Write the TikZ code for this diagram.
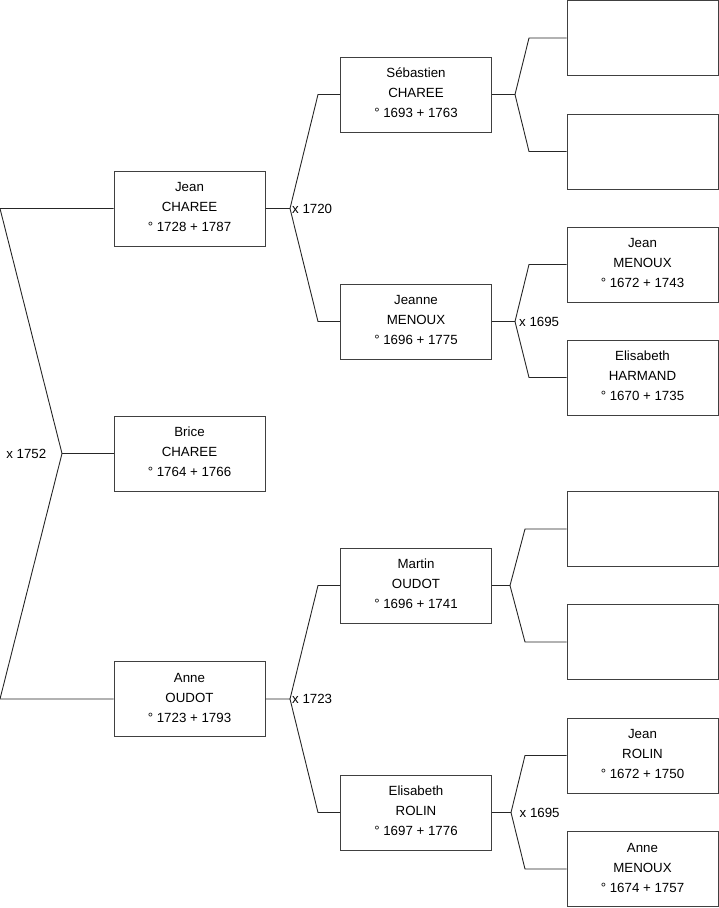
\documentclass[tikz,border=0pt]{standalone}
\usepackage{fontspec}
\setmainfont{Liberation Sans}
\usepackage{tikz}
\usetikzlibrary{calc, positioning}
\usepackage{tkz-euclide}

\definecolor{boxgray}{HTML}{404040}
\tikzset{
  person/.style={draw=boxgray, line width=1pt, minimum width=151pt, minimum height=75pt,
    inner sep=0pt, align=center, text depth=3pt, font=\fontsize{13.3}{20}\selectfont},
  link/.style={line width=0.9pt, black!85},
  lbl/.style={font=\fontsize{13.3}{15}\selectfont, inner sep=1.5pt}
}

\begin{document}
\begin{tikzpicture}[x=1pt, y=-1pt]
            \useasboundingbox (0,0) rectangle (719,908);
            % joints
            \tkzDefPoints{0/208.5/r1, 0/699/r2, 62/453.5/m0}
            \tkzDefPoints{290/208.5/j1, 318/94.5/ja, 318/321.5/jb}
            \tkzDefPoints{290/699/a1, 318/585.5/aa, 318/812.5/ab}
            \tkzDefPoints{515/94.5/s1, 529/38/sa, 529/151.5/sb}
            \tkzDefPoints{515/321.5/n1, 529/264.5/na, 529/377.5/nb}
            \tkzDefPoints{510/585.5/t1, 525/529/ta, 525/642/tb}
            \tkzDefPoints{511/812.5/e1, 525/755.5/ea, 525/869/eb}
            % generation 1
            \node[person] (jean)  at (189.5,208.5) {Jean\\CHAREE\\° 1728 + 1787};
            \node[person] (brice) at (189.5,453.5) {Brice\\CHAREE\\° 1764 + 1766};
            \node[person] (anne)  at (189.5,699)   {Anne\\OUDOT\\° 1723 + 1793};
            % generation 2
            \node[person] (sebastien) at (416,94.5)  {Sébastien\\CHAREE\\° 1693 + 1763};
            \node[person] (jeanne)    at (416,321.5) {Jeanne\\MENOUX\\° 1696 + 1775};
            \node[person] (martin)    at (416,585.5) {Martin\\OUDOT\\° 1696 + 1741};
            \node[person] (elisabeth) at (416,812.5) {Elisabeth\\ROLIN\\° 1697 + 1776};
            % generation 3
            \node[person] (seb-f)   at (642.5,38)    {};
            \node[person] (seb-m)   at (642.5,151.5) {};
            \node[person] (jmenoux) at (642.5,264.5) {Jean\\MENOUX\\° 1672 + 1743};
            \node[person] (harmand) at (642.5,377.5) {Elisabeth\\HARMAND\\° 1670 + 1735};
            \node[person] (mar-f)   at (642.5,529)   {};
            \node[person] (mar-m)   at (642.5,642)   {};
            \node[person] (jrolin)  at (642.5,755.5) {Jean\\ROLIN\\° 1672 + 1750};
            \node[person] (amenoux) at (642.5,869)   {Anne\\MENOUX\\° 1674 + 1757};
            % links
            \draw[link] (jean.west) -- (r1) -- (m0) -- (r2) -- (anne.west);
            \draw[link] (m0) -- (brice.west);
            \draw[link] (jean.east) -- (j1) (sebastien.west) -- (ja) -- (j1) -- (jb) -- (jeanne.west);
            \draw[link] (anne.east) -- (a1) (martin.west) -- (aa) -- (a1) -- (ab) -- (elisabeth.west);
            \draw[link] (sebastien.east) -- (s1) (seb-f.west) -- (sa) -- (s1) -- (sb) -- (seb-m.west);
            \draw[link] (jeanne.east) -- (n1) (jmenoux.west) -- (na) -- (n1) -- (nb) -- (harmand.west);
            \draw[link] (martin.east) -- (t1) (mar-f.west) -- (ta) -- (t1) -- (tb) -- (mar-m.west);
            \draw[link] (elisabeth.east) -- (e1) (jrolin.west) -- (ea) -- (e1) -- (eb) -- (amenoux.west);
            % marriages
            \node[lbl, left=14pt of m0] (x1752) {x 1752};
            \node[lbl, right=0.5pt of j1] (x1720) {x 1720};
            \node[lbl, right=0.5pt of a1] (x1723) {x 1723};
            \node[lbl, right=2.5pt of n1] (x1695a) {x 1695};
            \node[lbl, right=7pt of e1] (x1695b) {x 1695};
        \end{tikzpicture}
\end{document}
